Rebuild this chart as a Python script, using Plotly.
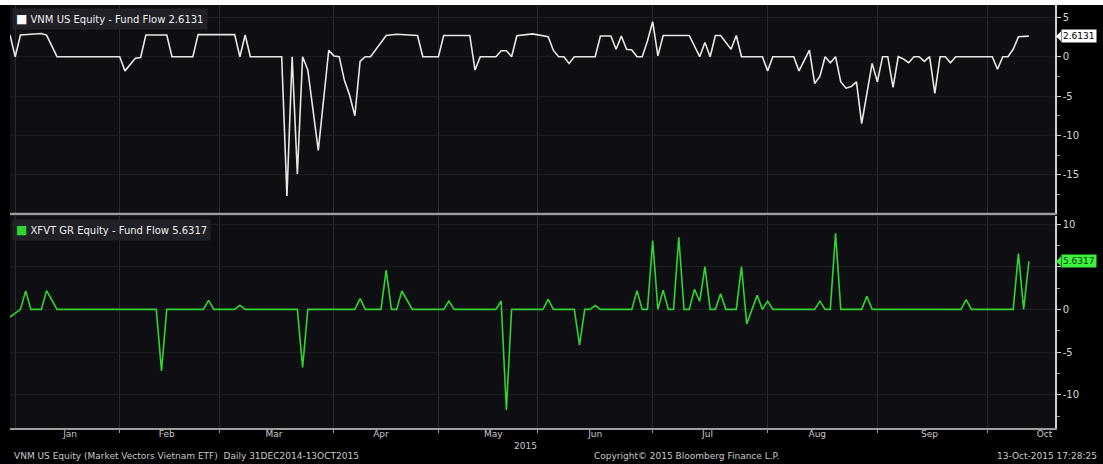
import pandas as pd
import plotly.graph_objects as go
from plotly.subplots import make_subplots

# ---------------- data ----------------
holidays = ["2015-01-01", "2015-01-19", "2015-02-16", "2015-04-03", "2015-04-06",
            "2015-05-01", "2015-05-25", "2015-07-03", "2015-09-07"]
trading_days = pd.bdate_range("2014-12-31", "2015-10-20")
trading_days = trading_days[~trading_days.isin(pd.to_datetime(holidays))]

# trading-day index of each vertex (0 = 31 Dec 2014) and fund flow value
vnm_day = [0, 1, 2, 5, 6, 7, 9, 21, 22, 24, 25, 26, 30, 31, 35, 36, 43, 44, 45, 46,
           52, 53, 54, 55, 56, 57, 59, 61, 62, 63, 64, 65, 66, 67, 68, 69, 72, 74, 78, 79,
           82, 83, 88, 89, 90, 93, 94, 95, 96, 97, 100, 103, 104, 105, 106, 107, 108,
           112, 113, 115, 116, 117, 118, 119, 120, 121, 122, 123, 124, 125, 130, 132,
           133, 134, 135, 136, 138, 139, 140, 144, 145, 146, 150, 151, 153, 154, 155,
           156, 157, 158, 159, 160, 161, 162, 163, 165, 166, 167, 168, 169, 170, 171,
           172, 173, 174, 175, 176, 177, 178, 179, 180, 181, 188, 189, 190, 191, 192,
           193, 195]
vnm_flow = [2.75, 0, 2.75, 2.85, 2.95, 2.75, 0, 0, -1.8, -0.2, -0.1, 2.75, 2.75, 0, 0, 2.8, 2.8, 0, 2.75, 0,
            0, -17.7, 0, -14.9, 0, -1.7, -11.9, 0.8, 0.1, 0, -3.0, -4.9, -7.5, -0.6, 0, 0, 2.7, 2.85, 2.7, 0,
            0, 2.7, 2.7, -1.7, 0, 0, 0.76, 0.76, 0, 2.67, 2.9, 2.55, 0.8, 0, 0, -0.85, 0,
            0, 2.63, 2.63, 0.94, 2.63, 0.94, 0.85, 0, 0, 2.0, 4.45, 0.1, 2.7, 2.7, 0,
            1.8, 0, 2.7, 2.7, 0.94, 2.7, 0, 0, -1.8, 0, 0, -1.8, 0.85, -3.4, -2.5,
            0, -0.76, 0, -3.2, -4.0, -3.8, -3.2, -8.5, -0.85, -3.2, 0, 0, -3.9, 0, -0.3,
            -0.76, 0, 0, -0.6, 0, -4.65, 0, 0, -0.76, 0, 0, -1.6, 0, 0, 0.94,
            2.54, 2.6131]

xfvt_day = [0, 2, 3, 4, 6, 7, 9, 28, 29, 30, 37, 38, 39, 43, 44, 45, 55, 56, 57, 66, 67, 68,
            71, 72, 73, 74, 75, 77, 83, 84, 85, 93, 94, 95, 96, 102, 103, 104, 108, 109, 110,
            111, 112, 113, 119, 120, 121, 122, 123, 124, 125, 126, 127, 128, 129, 130, 131,
            132, 133, 134, 135, 136, 137, 139, 140, 141, 143, 144, 145, 146, 154, 155, 156,
            157, 158, 159, 163, 164, 165, 182, 183, 184, 192, 193, 194, 195]
xfvt_flow = [-0.9, 0, 2.15, 0, 0, 2.2, 0, 0, -7.2, 0, 0, 1.06, 0, 0, 0.47, 0, 0, -6.8, 0, 0, 1.25, 0,
             0, 4.6, 0, 0, 2.15, 0, 0, 0.98, 0, 0, 0.98, -11.8, 0, 0, 1.18, 0, 0, -4.2, 0,
             0, 0.45, 0, 0, 2.2, 0, 0, 8.05, 0, 2.25, 0, 0, 8.45, 0, 0, 2.35,
             0.95, 5.0, 0, 0, 1.84, 0, 0, 5.0, -1.7, 1.65, 0, 0.96, 0, 0, 0.96, 0,
             0, 8.9, 0, 0, 1.53, 0, 0, 1.14, 0, 0, 6.55, 0, 5.6317]

top_ticks = [5, 0, -5, -10, -15]
top_tick_text = ["5", "0", "-5", "-10", "-15"]
bottom_ticks = [10, 5, 0, -5, -10]
bottom_tick_text = ["10", "", "0", "-5", "-10"]   # "5" sits under the last-value tag
top_name = "VNM US Equity - Fund Flow 2.6131"
bottom_name = "XFVT GR Equity - Fund Flow 5.6317"
vnm_last = "2.6131"
xfvt_last = "5.6317"

# ---------------- figure ----------------
FONT = "DejaVu Sans"
WHITE_LINE = "#e6e6e6"
GREEN = "#2fd52f"
TXT = "#c9c9c9"

fig = make_subplots(rows=2, cols=1, shared_xaxes=True, vertical_spacing=0.01)

fig.add_trace(go.Scatter(x=trading_days[vnm_day], y=vnm_flow, mode="lines",
                         line=dict(color=WHITE_LINE, width=1.6), showlegend=False,
                         hoverinfo="skip"), row=1, col=1)
fig.add_trace(go.Scatter(x=trading_days[xfvt_day], y=xfvt_flow, mode="lines",
                         line=dict(color=GREEN, width=1.6), showlegend=False,
                         hoverinfo="skip"), row=2, col=1)

H = 423.0
W = 1045.0
fig.update_layout(
    width=1103, height=464,
    margin=dict(l=10, r=48, t=5, b=36, autoexpand=False),
    paper_bgcolor="#000000",
    plot_bgcolor="#0e0e13",
    font=dict(family=FONT, color=TXT, size=9),
    showlegend=False,
    yaxis=dict(domain=[215 / H, 1.0]),
    yaxis2=dict(domain=[0.0, 212 / H]),
)

common_x = dict(
    type="date",
    range=["2014-12-31", "2015-10-20"],
    rangebreaks=[dict(bounds=["sat", "mon"]), dict(values=holidays)],
    dtick="M1", tick0="2015-01-01", tickformat="%b", ticklabelmode="period",
    showgrid=True, gridcolor="#2a2a31", gridwidth=1,
    zeroline=False,
    showline=True, linecolor="#9e9e9e", linewidth=2,
    tickfont=dict(family=FONT, size=9, color=TXT),
)
fig.update_xaxes(**common_x)
fig.update_xaxes(showticklabels=False, ticks="", row=1, col=1)
fig.update_xaxes(ticks="outside", ticklen=3, tickcolor="#9e9e9e", ticklabelstandoff=-7,
                 row=2, col=1)

common_y = dict(
    side="right", showgrid=True, gridcolor="#1d1d24", gridwidth=1, zeroline=False,
    showline=True, linecolor="#cfcfcf", linewidth=1.5,
    ticks="outside", ticklen=4, tickcolor="#cfcfcf",
    tickfont=dict(family=FONT, size=10, color="#d6d6d6"),
    minor=dict(dtick=2.5, tick0=0, ticks="outside", ticklen=3, tickcolor="#9a9a9a", showgrid=False),
)
fig.update_yaxes(**common_y)
fig.update_yaxes(range=[-19.86, 6.57], tickvals=top_ticks, ticktext=top_tick_text, row=1, col=1)
fig.update_yaxes(range=[-13.9, 10.94], tickvals=bottom_ticks, ticktext=bottom_tick_text, row=2, col=1)

# white strip at the very top (cropped header)
fig.add_shape(type="rect", xref="paper", yref="paper", x0=-0.02, x1=1.06,
              y0=1.0, y1=1.03, fillcolor="#ffffff", line=dict(width=0), layer="above")
# separator between panels
fig.add_shape(type="line", xref="paper", yref="paper", x0=0, x1=1,
              y0=(428 - 214) / H, y1=(428 - 214) / H,
              line=dict(color="#9c9c9c", width=2.5), layer="above")

# legend boxes
fig.add_annotation(xref="paper", yref="paper", x=2 / W, y=(428 - 8) / H,
                   xanchor="left", yanchor="top", showarrow=False,
                   text="<span style='color:#ffffff;font-size:12px'>■</span> " + top_name,
                   font=dict(family=FONT, size=10, color="#eeeeee"),
                   bgcolor="#202026", borderpad=3)
fig.add_annotation(xref="paper", yref="paper", x=2 / W, y=(428 - 219) / H,
                   xanchor="left", yanchor="top", showarrow=False,
                   text="<span style='color:" + GREEN + ";font-size:12px'>■</span> " + bottom_name,
                   font=dict(family=FONT, size=10, color="#eeeeee"),
                   bgcolor="#202026", borderpad=3)

# last-value tags on the right axes (with small pointer)
for yref, val, txt, bg, fg in [("y", vnm_flow[-1], vnm_last, "#ffffff", "#000000"),
                               ("y2", xfvt_flow[-1], xfvt_last, "#3cf03c", "#0a3a0a")]:
    fig.add_annotation(xref="paper", yref=yref, x=1.0 + 6 / W, y=val,
                       xanchor="left", yanchor="middle", showarrow=False, text=txt,
                       font=dict(family=FONT, size=9, color=fg),
                       bgcolor=bg, borderpad=1)
    fig.add_shape(type="path", xref="paper", yref=yref, xsizemode="pixel", ysizemode="pixel",
                  xanchor=1.0, yanchor=val, path="M 1,0 L 6,5 L 6,-5 Z",
                  fillcolor=bg, line=dict(width=0), layer="above")

# year label and footer
fig.add_annotation(xref="paper", yref="paper", x=(525 - 10) / W, y=(428 - 446) / H,
                   showarrow=False, text="2015", font=dict(family=FONT, size=9, color=TXT),
                   yanchor="middle")
fig.add_annotation(xref="paper", yref="paper", x=2 / W, y=(428 - 456) / H,
                   xanchor="left", yanchor="middle", showarrow=False,
                   text="VNM US Equity (Market Vectors Vietnam ETF)  Daily 31DEC2014-13OCT2015",
                   font=dict(family=FONT, size=9, color=TXT))
fig.add_annotation(xref="paper", yref="paper", x=(686 - 10) / W, y=(428 - 456) / H,
                   xanchor="center", yanchor="middle", showarrow=False,
                   text="Copyright© 2015 Bloomberg Finance L.P.",
                   font=dict(family=FONT, size=9, color=TXT))
fig.add_annotation(xref="paper", yref="paper", x=(1099 - 10) / W, y=(428 - 456) / H,
                   xanchor="right", yanchor="middle", showarrow=False,
                   text="13-Oct-2015 17:28:25",
                   font=dict(family=FONT, size=9, color=TXT))

fig.write_html("out.html", config={"displayModeBar": False},
               post_script="document.body.style.margin='0';document.body.style.overflow='hidden';")
